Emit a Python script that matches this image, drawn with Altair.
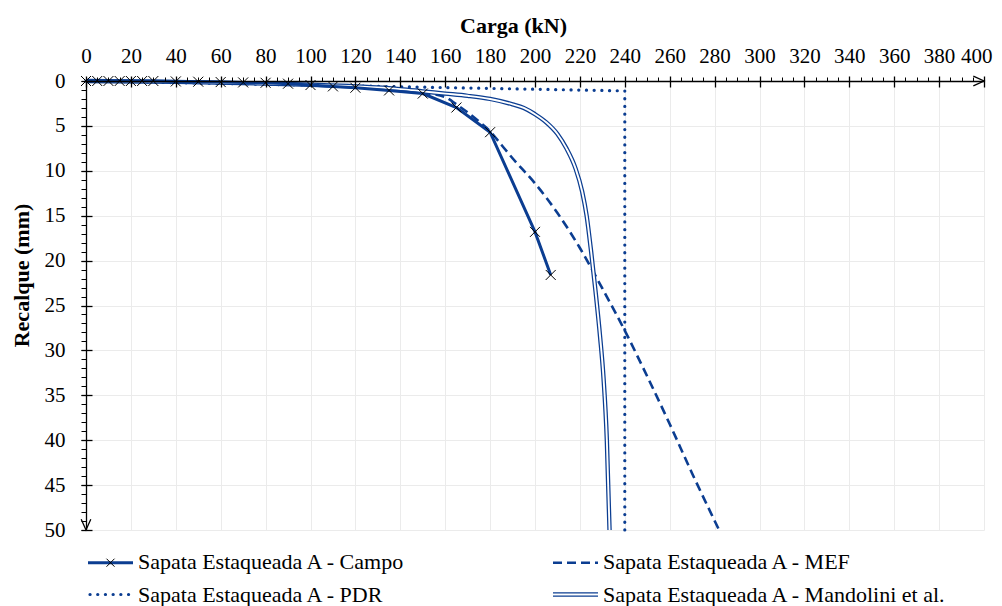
import altair as alt
import pandas as pd

# ---------------- data ----------------
CAMPO_CARGA = [0, 5, 10, 15, 20, 25, 30, 40, 50, 60, 70, 80, 90, 100, 110, 120, 135, 150, 165, 180, 200, 207]
CAMPO_RECALQUE = [0, 0, 0, 0, 0, 0, 0, 0.05, 0.08, 0.12, 0.16, 0.2, 0.3, 0.45, 0.6, 0.75, 1.05, 1.4, 2.95, 5.7, 16.8, 21.6]

MEF_CARGA = [0, 40, 80, 100, 120, 140, 150, 160, 165, 170, 175, 180, 185, 190, 200, 210, 220, 230, 240, 250, 260, 270, 282]
MEF_RECALQUE = [0, 0.1, 0.3, 0.45, 0.65, 1.0, 1.3, 1.8, 2.6, 3.5, 4.5, 5.6, 7.1, 8.6, 11.4, 14.7, 18.6, 23.1, 27.8, 32.9, 38.2, 43.7, 50]

PDR_CARGA = [0, 240, 240]
PDR_RECALQUE = [0, 1.1, 50]

MAND_CARGA = [0, 40, 80, 100, 120, 140, 150, 160, 170, 180, 190, 195, 200, 205, 210, 214, 218, 221, 223, 225, 227, 229, 230.5, 232, 233.2]
MAND_RECALQUE = [0, 0.1, 0.28, 0.42, 0.6, 0.9, 1.15, 1.4, 1.65, 2.0, 2.6, 3.0, 3.7, 4.6, 5.9, 7.5, 9.7, 12.3, 15.0, 19.0, 23.5, 28.5, 33.0, 40.0, 50.0]

X_DOMAIN = [0, 400]
Y_DOMAIN = [0, 50]
X_TICKS = list(range(0, 401, 20))
Y_TICKS = list(range(0, 51, 5))
X_MINOR = list(range(0, 401, 5))
Y_MINOR = list(range(0, 51, 1))

LEGEND_LABELS = [
    "Sapata Estaqueada A - Campo",
    "Sapata Estaqueada A - MEF",
    "Sapata Estaqueada A - PDR",
    "Sapata Estaqueada A - Mandolini et al.",
]

# ---------------- styling / layout ----------------
BLUE = "#0B3D91"
FONT = "Liberation Serif"
W, H = 898, 449
GRID = "#EBEBEB"


def frame(x, y):
    return pd.DataFrame({"carga": x, "recalque": y, "i": list(range(len(x)))})


xs = alt.Scale(domain=X_DOMAIN, nice=False, zero=False)
ys = alt.Scale(domain=Y_DOMAIN, nice=False, zero=False, reverse=True)


def X(axis=None):
    return alt.X("carga:Q", scale=xs, axis=axis)


def Y(axis=None):
    return alt.Y("recalque:Q", scale=ys, axis=axis)


campo = frame(CAMPO_CARGA, CAMPO_RECALQUE)
mef = frame(MEF_CARGA, MEF_RECALQUE)
pdr = frame(PDR_CARGA, PDR_RECALQUE)
mand = frame(MAND_CARGA, MAND_RECALQUE)
corners = frame(X_DOMAIN, Y_DOMAIN)

LBL = dict(labelFont=FONT, labelFontSize=21, labelColor="black", labelOverlap=False)

# --- axis layers (invisible points carrying the axes) ---
grid_layer = alt.Chart(corners).mark_point(opacity=0).encode(
    x=X(alt.Axis(orient="top", values=X_TICKS, grid=True, gridColor=GRID, gridWidth=1,
                 labels=False, ticks=False, domain=False, title=None, zindex=0)),
    y=Y(alt.Axis(orient="left", values=Y_TICKS, grid=True, gridColor=GRID, gridWidth=1,
                 labels=False, ticks=False, domain=False, title=None, zindex=0)),
)

main_axes = alt.Chart(corners).mark_point(opacity=0).encode(
    x=X(alt.Axis(orient="top", values=X_TICKS[:-1], grid=False, domain=True, domainColor="black",
                 domainWidth=1.3, ticks=True, tickColor="black", tickSize=5, tickWidth=1.3,
                 labels=True, labelPadding=10, labelFlush=False, **LBL,
                 title="Carga (kN)", titleFont=FONT, titleFontSize=22, titleFontWeight="bold",
                 titleColor="black", titleX=427, titleY=-56, titleBaseline="middle",
                 titleAlign="center", zindex=2)),
    y=Y(alt.Axis(orient="left", values=Y_TICKS, grid=False, domain=True, domainColor="black",
                 domainWidth=1.3, ticks=True, tickColor="black", tickSize=5, tickWidth=1.3,
                 labels=True, labelPadding=16, **LBL,
                 title="Recalque (mm)", titleFont=FONT, titleFontSize=22, titleFontWeight="bold",
                 titleColor="black", titleX=-65, titleY=194, titleAngle=270,
                 titleBaseline="middle", titleAlign="center", zindex=2)),
)

# last x label, kept inside the page
end_axes = alt.Chart(corners).mark_point(opacity=0).encode(
    x=X(alt.Axis(orient="top", values=X_TICKS[-1:], grid=False, domain=False,
                 ticks=True, tickColor="black", tickSize=5, tickWidth=1.3,
                 labels=True, labelPadding=10, labelFlush=True, labelFlushOffset=8, **LBL,
                 title=None, zindex=2)),
    y=Y(alt.Axis(orient="left", values=Y_TICKS, grid=False, domain=False, labels=False,
                 ticks=False, title=None, zindex=2)),
)

minor_axes = alt.Chart(corners).mark_point(opacity=0).encode(
    x=X(alt.Axis(orient="top", values=X_MINOR, grid=False, domain=False, labels=False,
                 ticks=True, tickColor="black", tickSize=4, tickWidth=1, title=None, zindex=2)),
    y=Y(alt.Axis(orient="left", values=Y_MINOR, grid=False, domain=False, labels=False,
                 ticks=True, tickColor="black", tickSize=5, tickWidth=1, title=None, zindex=2)),
)

inner_axes = alt.Chart(corners).mark_point(opacity=0).encode(
    x=X(alt.Axis(orient="top", values=X_TICKS, offset=-6, grid=False, domain=False, labels=False,
                 ticks=True, tickColor="black", tickSize=6, tickWidth=1.3, title=None, zindex=2)),
    y=Y(alt.Axis(orient="left", values=Y_TICKS, offset=-6, grid=False, domain=False, labels=False,
                 ticks=True, tickColor="black", tickSize=6, tickWidth=1.3, title=None, zindex=2)),
)

# --- data layers ---
pdr_line = alt.Chart(pdr).mark_line(color=BLUE, strokeWidth=3.2, strokeDash=[0.1, 7.6],
                                    strokeCap="round").encode(x=X(), y=Y(), order="i:Q")
mef_line = alt.Chart(mef).mark_line(color=BLUE, strokeWidth=2.6, strokeDash=[9, 5],
                                    interpolate="monotone").encode(x=X(), y=Y(), order="i:Q")
mand_outer = alt.Chart(mand).mark_line(color=BLUE, strokeWidth=4.4,
                                       interpolate="monotone").encode(x=X(), y=Y(), order="i:Q")
mand_inner = alt.Chart(mand).mark_line(color="white", strokeWidth=1.9,
                                       interpolate="monotone").encode(x=X(), y=Y(), order="i:Q")
campo_line = alt.Chart(campo).mark_line(color=BLUE, strokeWidth=3).encode(x=X(), y=Y(), order="i:Q")
XSHAPE = "M-1,-1L1,1M-1,1L1,-1"
campo_pts = alt.Chart(campo).mark_point(shape=XSHAPE, filled=False, color="black",
                                        strokeWidth=1, size=100, opacity=1).encode(x=X(), y=Y())

# --- axis arrows at the ends of the axes ---
arrow_x = alt.Chart(frame([X_DOMAIN[1]], [Y_DOMAIN[0]])).mark_point(
    shape="M-2,-0.9L0,0L-2,0.9", filled=False, color="black", strokeWidth=1.3, size=114, opacity=1
).encode(x=X(), y=Y())
arrow_y = alt.Chart(frame([X_DOMAIN[0]], [Y_DOMAIN[1]])).mark_point(
    shape="M-0.9,-2L0,0L0.9,-2", filled=False, color="black", strokeWidth=1.3, size=114, opacity=1
).encode(x=X(), y=Y())

# --- hand-made legend (outside the plot area) ---
ROW1, ROW2 = 481.7, 513.5
TB1, TB2 = 487.5, 521.0
COL1 = (2, 47, 52)
COL2 = (467, 512, 517)
one = pd.DataFrame({"k": [0]})


def lab(text, x, y):
    return alt.Chart(pd.DataFrame({"label": [text]})).mark_text(
        align="left", baseline="alphabetic", font=FONT, fontSize=22, color="black"
    ).encode(x=alt.value(x), y=alt.value(y), text="label:N")


def seg(x1, x2, y, **kw):
    return alt.Chart(one).mark_rule(**kw).encode(x=alt.value(x1), x2=alt.value(x2), y=alt.value(y))


legend = [
    seg(COL1[0], COL1[1], ROW1, color=BLUE, strokeWidth=3),
    alt.Chart(one).mark_point(shape=XSHAPE, filled=False, color="black", strokeWidth=1, size=64,
                              opacity=1).encode(x=alt.value((COL1[0] + COL1[1]) / 2), y=alt.value(ROW1)),
    lab(LEGEND_LABELS[0], COL1[2], TB1),
    seg(COL2[0], COL2[1], ROW1, color=BLUE, strokeWidth=2.6, strokeDash=[9, 5]),
    lab(LEGEND_LABELS[1], COL2[2], TB1),
    seg(COL1[0] + 2, COL1[1] - 2, ROW2, color=BLUE, strokeWidth=3.2, strokeDash=[0.1, 7.6], strokeCap="round"),
    lab(LEGEND_LABELS[2], COL1[2], TB2),
    seg(COL2[0], COL2[1], ROW2, color=BLUE, strokeWidth=4.4),
    seg(COL2[0], COL2[1], ROW2, color="white", strokeWidth=1.9),
    lab(LEGEND_LABELS[3], COL2[2], TB2),
]

chart = alt.layer(
    grid_layer,
    pdr_line, mef_line, mand_outer, mand_inner, campo_line, campo_pts,
    main_axes, end_axes, minor_axes, inner_axes,
    arrow_x, arrow_y,
    *legend,
).resolve_axis(x="independent", y="independent").properties(
    width=W, height=H,
    background="white",
    autosize=alt.AutoSizeParams(type="none"),
    padding={"left": 78, "top": 73, "right": 10, "bottom": 78},
).configure_view(stroke=None)

chart.save("out.html", embed_options={"renderer": "svg", "actions": False})
